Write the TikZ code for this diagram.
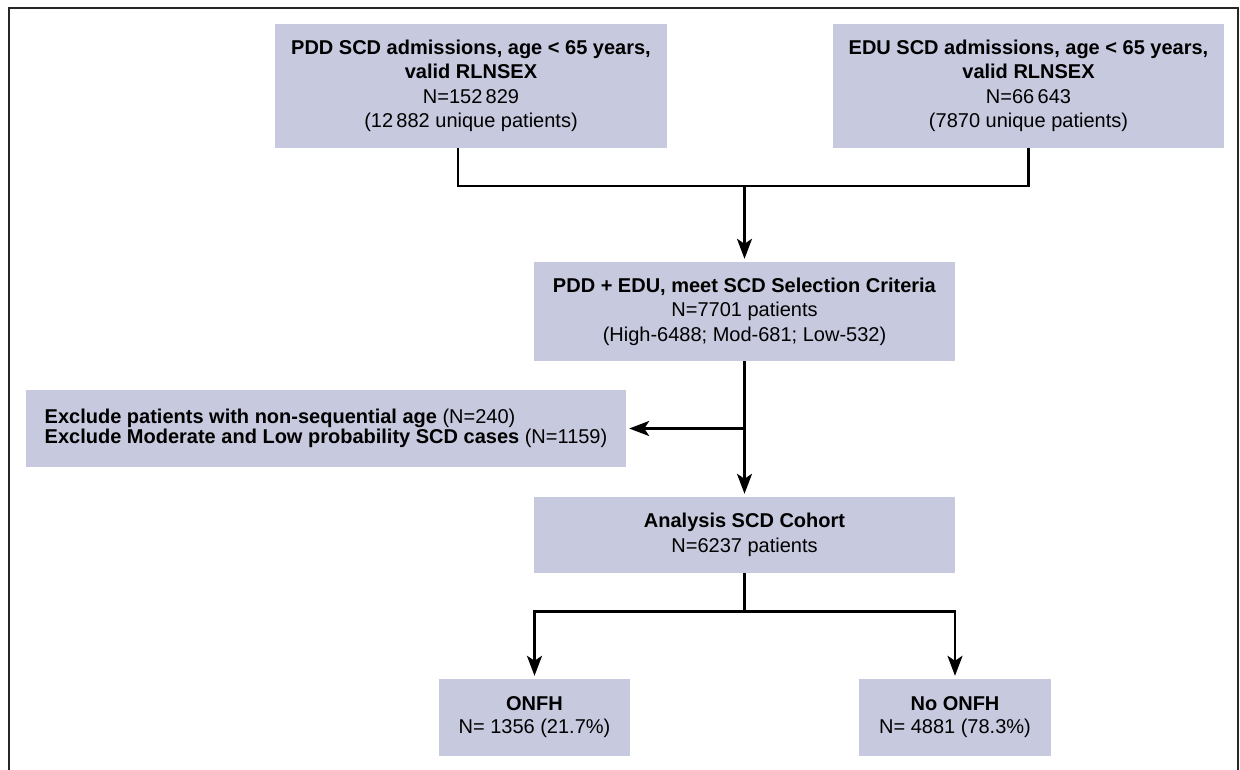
\documentclass[tikz,border=0pt]{standalone}
\usepackage{fontspec}
\setmainfont{Liberation Sans}
\usetikzlibrary{positioning}
\usetikzlibrary{arrows.meta, calc}
\definecolor{boxgray}{RGB}{199,201,222}

\begin{document}
\begin{tikzpicture}[x=1pt, y=-1pt, >={Stealth[length=20pt,width=15pt,inset=5pt]}, font=\fontsize{20}{24.5}\selectfont]%

            \tikzstyle{blk} = [ rectangle, fill = boxgray, align = center, inner sep = 0pt]
            \tikzstyle{excl} = [ rectangle, fill = boxgray, align = left, minimum width = 600pt, inner sep = 0pt, minimum height = 77pt, font = \fontsize{20}{18.5}\selectfont]
            \tikzstyle{link} = [ line width = 2.6pt, draw = black]
            \tikzstyle{flow} = [ link, ->, shorten > = 3pt]
            \tikzstyle{frame} = [ line width = 2.5pt, draw = black!85]
        %%
            \useasboundingbox (0,0) rectangle (1240,769);
            \draw[frame] (9,800) |- (1238,8) -- (1238,800);

            \begin{scope}[on grid]%
                %% Selection
                \node [blk, minimum width = 421pt, minimum height = 99pt] (mid) at (744.5,311.5)
                    {\textbf{PDD + EDU, meet SCD Selection Criteria}\\ N=7701 patients\\ (High-6488; Mod-681; Low-532)};

                %% Sources
                \node [blk, minimum width = 392pt, minimum height = 124pt] (pdd) [ above left = 225.5pt and 273.5pt of mid]
                    {\textbf{PDD SCD admissions, age < 65 years,}\\ \textbf{valid RLNSEX}\\ N=152\,829\\ (12\,882 unique patients)};
                \node [blk, minimum width = 391pt, minimum height = 124pt] (edu) [ above right = 225.5pt and 284pt of mid]
                    {\textbf{EDU SCD admissions, age < 65 years,}\\ \textbf{valid RLNSEX}\\ N=66\,643\\ (7870 unique patients)};

                %% Exclusions and cohort
                \node [excl] (exc) [ below left = 117pt and 418.5pt of mid]
                    {\textbf{Exclude patients with non-sequential age} (N=240)\\ \textbf{Exclude Moderate and Low probability SCD cases} (N=1159)};
                \node [blk, minimum width = 421pt, minimum height = 76pt] (cohort) [ below = 223.5pt of mid]
                    {\textbf{Analysis SCD Cohort}\\ N=6237 patients};

                %% Outcomes
                \node [blk, minimum width = 191pt, minimum height = 77pt, font = \fontsize{20}{23}\selectfont] (onfh) [ below left = 182.5pt and 210pt of cohort]
                    {\textbf{ONFH}\\ N= 1356 (21.7\%)};
                \node [blk, minimum width = 192pt, minimum height = 77pt, font = \fontsize{20}{23}\selectfont] (noonfh) [ below right = 182.5pt and 210.5pt of cohort]
                    {\textbf{No ONFH}\\ N= 4881 (78.3\%)};
            \end{scope}%

            \coordinate [above = 76pt of mid.north] (jn);
            \coordinate (br) at (mid.south |- exc.east);
            \coordinate [below = 38pt of cohort.south] (sp);

            \draw[link] ([xshift=-13pt]pdd.south) |- (jn) -| (edu.south);
            \draw[flow] (jn) -- (mid.north);
            \draw[flow] (mid.south) -- (cohort.north);
            \draw[flow] (br) -- (exc.east);
            \draw[link] (cohort.south) -- (sp);
            \draw[flow] (sp) -| (onfh.north);
            \draw[flow] (sp) -| (noonfh.north);
        \end{tikzpicture}
\end{document}
